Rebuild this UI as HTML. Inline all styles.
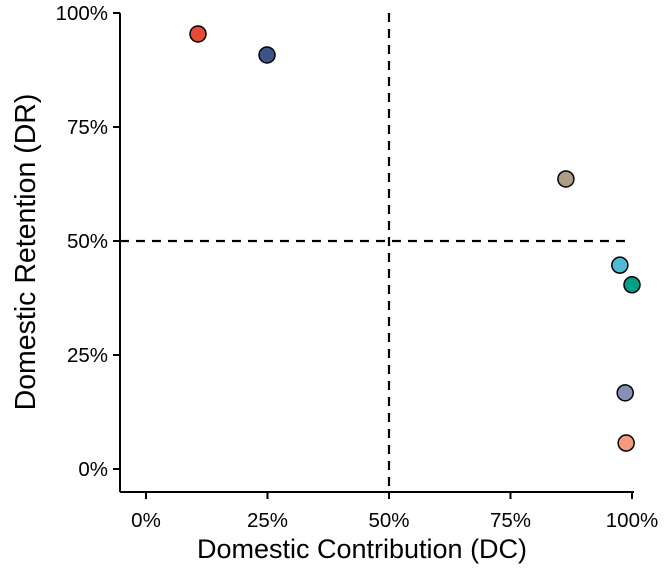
<!DOCTYPE html>
<html><head><meta charset="utf-8"><style>
body{margin:0;background:#fff;}
svg text{font-family:"Liberation Sans",Arial,sans-serif;}
</style></head><body>
<svg id="chart" width="672" height="576">
<g id="axes"></g><g id="marks"></g>
</svg>
<script>
const categories=["A","B","C","D","E","F","G"];
const dcValues=[10.7,24.9,86.4,97.5,100,98.6,98.8];
const drValues=[95.4,90.8,63.6,44.7,40.4,16.7,5.7];
const colors=["#E64B35","#3C5488","#B09C85","#4DBBD5","#00A087","#8491B4","#F39B7F"];
const xTicks=[0,25,50,75,100];
const yTicks=[0,25,50,75,100];
const tickLabels=["0%","25%","50%","75%","100%"];
const NS="http://www.w3.org/2000/svg";
const xs=v=>146+v*(632-146)/100;
const ys=v=>469-v*(469-13)/100;
const axes=document.getElementById('axes'),marks=document.getElementById('marks');
function mk(tag,attrs,parent){const e=document.createElementNS(NS,tag);for(const k in attrs)e.setAttribute(k,attrs[k]);parent.appendChild(e);return e;}
let e;
e=mk('line',{x1:120,y1:13,x2:120,y2:492,stroke:'#000','stroke-width':2},axes);


e=mk('line',{x1:120,y1:492,x2:634,y2:492,stroke:'#000','stroke-width':2},axes);


xTicks.forEach((t,i)=>{
 e=mk('line',{x1:xs(t),y1:492,x2:xs(t),y2:499,stroke:'#000','stroke-width':2},axes);
 
 
 e=mk('text',{x:xs(t),y:527,'text-anchor':'middle','font-size':20.5,fill:'#000'},axes);e.textContent=tickLabels[i];
 
 
});
yTicks.forEach((t,i)=>{
 e=mk('line',{x1:113,y1:ys(t),x2:120,y2:ys(t),stroke:'#000','stroke-width':2},axes);
 
 
 e=mk('text',{x:108,y:ys(t)+7,'text-anchor':'end','font-size':20.5,fill:'#000'},axes);e.textContent=tickLabels[i];
 
 
});
e=mk('line',{x1:120,y1:ys(50),x2:xs(100),y2:ys(50),stroke:'#000','stroke-width':2.2,'stroke-dasharray':'9,7'},axes);


e=mk('line',{x1:xs(50),y1:13,x2:xs(50),y2:492,stroke:'#000','stroke-width':2.2,'stroke-dasharray':'9,7'},axes);


e=mk('text',{x:362,y:558,'text-anchor':'middle','font-size':27,fill:'#000'},axes);e.textContent='Domestic Contribution (DC)';


e=mk('text',{x:0,y:0,'text-anchor':'middle','font-size':28.5,fill:'#000',transform:'translate(35,252) rotate(-90)'},axes);e.textContent='Domestic Retention (DR)';


categories.forEach((c,i)=>{
 e=mk('circle',{cx:xs(dcValues[i]),cy:ys(drValues[i]),r:8,fill:colors[i],stroke:'#000','stroke-width':1.5},marks);
 
 
});
</script>
</body></html>
